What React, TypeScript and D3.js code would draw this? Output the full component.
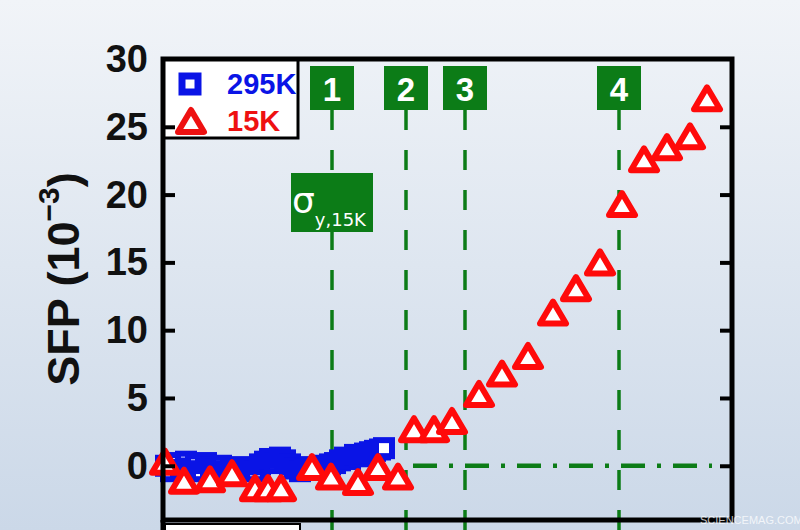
import { useEffect, useRef } from "react";
import * as d3 from "d3";

// y axis ticks (SFP, 10^-3)
const yTicks = [0, 5, 10, 15, 20, 25, 30];

// loading stages marked with green dashed lines (x in arbitrary strain units)
const stageLabels = ["1", "2", "3", "4"];
const stageX = [16.9, 24.3, 30.2, 45.6];

// 295K series: [x, SFP]
const sfp295K: [number, number][] = [
  [0.3, 0.0], [0.8, -0.4], [1.3, 0.2], [1.8, -0.3], [2.3, 0.3], [2.8, -0.2],
  [3.3, 0.1], [3.8, -0.4], [4.3, 0.2], [4.8, -0.1], [5.3, -0.3], [5.8, 0.0],
  [6.3, -0.4], [6.8, -0.2], [7.3, -0.3], [7.8, -0.1], [8.3, -0.3], [8.7, -0.2],
  [9.2, -0.4], [9.7, 0.1], [10.2, 0.3], [10.7, 0.5], [11.2, 0.2], [11.7, 0.6],
  [12.2, 0.4], [12.7, 0.1], [13.2, -0.2], [13.7, -0.4], [14.2, -0.3], [14.7, -0.1],
  [15.2, -0.3], [15.7, 0.0], [16.2, -0.2], [16.7, 0.1], [17.2, 0.2], [17.7, 0.4],
  [18.2, 0.6], [18.7, 0.5], [19.2, 0.8], [19.7, 0.7], [20.2, 0.9], [20.7, 1.0],
  [21.2, 1.1], [21.7, 1.2], [22.1, 1.3],
];

// 15K series: [x, SFP]
const sfp15K: [number, number][] = [
  [0.2, 0.3], [2.1, -1.1], [4.7, -1.0], [6.9, -0.55], [9.2, -1.65], [10.5, -1.65],
  [11.8, -1.65], [14.9, -0.1], [16.8, -0.8], [19.5, -1.2], [21.5, -0.1], [23.5, -0.8],
  [25.1, 2.7], [27.1, 2.7], [28.9, 3.3], [31.6, 5.3], [33.9, 6.8], [36.5, 8.1],
  [39.0, 11.3], [41.3, 13.1], [43.7, 15.0], [45.9, 19.3], [48.1, 22.6], [50.4, 23.5],
  [52.7, 24.3], [54.4, 27.1],
];

const legendItems = [
  { label: "295K", color: "#0a14e6", shape: "square" },
  { label: "15K", color: "#ee1111", shape: "triangle" },
];

const GREEN = "#0c7c17";
const FONT = "'Liberation Sans', Arial, sans-serif";

const triPath = "M0,-11L13,11L-13,11Z";

export default function App() {
  const ref = useRef<SVGSVGElement>(null);

  useEffect(() => {
    if (!ref.current) return;
    const svg = d3.select(ref.current);
    svg.selectAll("*").remove();
    const w = 800;
    const h = 530;
    const m = { t: 59, r: 68, b: 10, l: 163 };

    const x = d3.scaleLinear().domain([0, 56.9]).range([m.l, w - m.r]);
    const y = d3.scaleLinear().domain([-4, 30]).range([h - m.b, m.t]);

    // background
    const defs = svg.append("defs");
    const grad = defs.append("linearGradient").attr("id", "bg").attr("x1", 0).attr("y1", 0).attr("x2", 0).attr("y2", 1);
    grad.append("stop").attr("offset", "0%").attr("stop-color", "#f1f4f8");
    grad.append("stop").attr("offset", "100%").attr("stop-color", "#cbd8e8");
    svg.append("rect").attr("width", w).attr("height", h).attr("fill", "url(#bg)");

    // stage lines
    svg.append("g")
      .selectAll("line")
      .data(stageX)
      .join("line")
      .attr("x1", (d) => x(d)).attr("x2", (d) => x(d))
      .attr("y1", 110).attr("y2", h)
      .attr("stroke", GREEN).attr("stroke-width", 3.5)
      .attr("stroke-dasharray", "20 20");

    // zero reference (dash-dot)
    svg.append("line")
      .attr("x1", x(25.0)).attr("x2", x(54.9))
      .attr("y1", y(0)).attr("y2", y(0))
      .attr("stroke", GREEN).attr("stroke-width", 4.5)
      .attr("stroke-dasharray", "24 12 4 12");

    // 295K squares
    svg.append("g")
      .selectAll("rect")
      .data(sfp295K)
      .join("rect")
      .attr("x", (d) => x(d[0]) - 8).attr("y", (d) => y(d[1]) - 8)
      .attr("width", 16).attr("height", 16)
      .attr("fill", "#fff").attr("stroke", "#0a14e6").attr("stroke-width", 6);

    // 15K triangles
    svg.append("g")
      .selectAll("path")
      .data(sfp15K)
      .join("path")
      .attr("transform", (d) => `translate(${x(d[0])},${y(d[1])})`)
      .attr("d", triPath)
      .attr("fill", "#fff").attr("stroke", "#ff0a0a").attr("stroke-width", 6)
      .attr("stroke-linejoin", "round");

    // stage boxes
    const boxes = svg.append("g");
    stageX.forEach((s, i) => {
      boxes.append("rect")
        .attr("x", x(s) - 22).attr("y", 66).attr("width", 44).attr("height", 44)
        .attr("fill", GREEN);
      boxes.append("text")
        .attr("x", x(s)).attr("y", 101)
        .attr("text-anchor", "middle")
        .attr("font-family", FONT).attr("font-weight", "bold").attr("font-size", 33)
        .attr("fill", "#fff")
        .text(stageLabels[i]);
    });

    // yield stress box
    svg.append("rect")
      .attr("x", x(stageX[0]) - 41).attr("y", 173).attr("width", 82).attr("height", 59)
      .attr("fill", GREEN);
    const sig = svg.append("text")
      .attr("x", x(stageX[0]) - 40).attr("y", 213)
      .attr("font-family", "'DejaVu Sans', sans-serif").attr("fill", "#fff");
    sig.append("tspan").attr("font-size", 36).text("σ");
    sig.append("tspan").attr("font-size", 18).attr("dy", 13).text("y,15K");

    // legend
    svg.append("rect")
      .attr("x", m.l).attr("y", m.t).attr("width", 135).attr("height", 79)
      .attr("fill", "#fff").attr("stroke", "#000").attr("stroke-width", 3);
    legendItems.forEach((it, i) => {
      const cy = 84 + i * 37;
      if (it.shape === "square") {
        svg.append("rect")
          .attr("x", 190 - 8).attr("y", cy - 8).attr("width", 16).attr("height", 16)
          .attr("fill", "#fff").attr("stroke", it.color).attr("stroke-width", 7);
      } else {
        svg.append("path")
          .attr("transform", `translate(191,${cy})`)
          .attr("d", triPath)
          .attr("fill", "#fff").attr("stroke", it.color).attr("stroke-width", 6)
          .attr("stroke-linejoin", "round");
      }
      svg.append("text")
        .attr("x", 227).attr("y", cy)
        .attr("dominant-baseline", "central")
        .attr("font-family", FONT).attr("font-weight", "bold").attr("font-size", 29)
        .attr("fill", it.color)
        .text(it.label);
    });

    // frame
    svg.append("rect")
      .attr("x", m.l).attr("y", m.t)
      .attr("width", w - m.r - m.l).attr("height", h - m.b - m.t)
      .attr("fill", "none").attr("stroke", "#000").attr("stroke-width", 5);
    svg.append("line")
      .attr("x1", m.l).attr("x2", m.l).attr("y1", h - m.b).attr("y2", h)
      .attr("stroke", "#000").attr("stroke-width", 5);

    // axes
    svg.append("g")
      .attr("transform", `translate(${m.l},0)`)
      .call(d3.axisRight(y).tickValues(yTicks.slice(0, -1)).tickSize(12).tickFormat(() => ""))
      .call((g) => g.select(".domain").remove())
      .call((g) => g.selectAll("line").attr("stroke", "#000").attr("stroke-width", 4));
    svg.append("g")
      .attr("transform", `translate(${w - m.r},0)`)
      .call(d3.axisLeft(y).tickValues(yTicks.slice(0, -1)).tickSize(12).tickFormat(() => ""))
      .call((g) => g.select(".domain").remove())
      .call((g) => g.selectAll("line").attr("stroke", "#000").attr("stroke-width", 4));

    svg.append("g")
      .selectAll("text")
      .data(yTicks)
      .join("text")
      .attr("x", 148).attr("y", (d) => y(d))
      .attr("text-anchor", "end").attr("dominant-baseline", "central")
      .attr("font-family", FONT).attr("font-weight", "bold").attr("font-size", 38)
      .attr("fill", "#111")
      .text((d) => d);

    const yl = svg.append("text")
      .attr("transform", `translate(79,${279}) rotate(-90)`)
      .attr("text-anchor", "middle")
      .attr("font-family", FONT).attr("font-weight", "bold").attr("font-size", 45)
      .attr("fill", "#111");
    yl.append("tspan").text("SFP (10");
    yl.append("tspan").attr("font-size", 30).attr("dy", -20).text("−3");
    yl.append("tspan").attr("dy", 20).text(")");

    // next panel legend corner
    svg.append("rect")
      .attr("x", m.l + 2).attr("y", 524).attr("width", 135).attr("height", 10)
      .attr("fill", "#fff").attr("stroke", "#000").attr("stroke-width", 2);

    svg.append("text")
      .attr("x", 700).attr("y", 524)
      .attr("font-family", FONT).attr("font-size", 11)
      .attr("fill", "#fff").attr("opacity", 0.75)
      .text("SCIENCEMAG.COM");
  }, []);

  return (
    <div style={{ position: "fixed", left: 0, top: 0 }}>
      <svg ref={ref} width={800} height={530} style={{ display: "block" }} />
    </div>
  );
}
